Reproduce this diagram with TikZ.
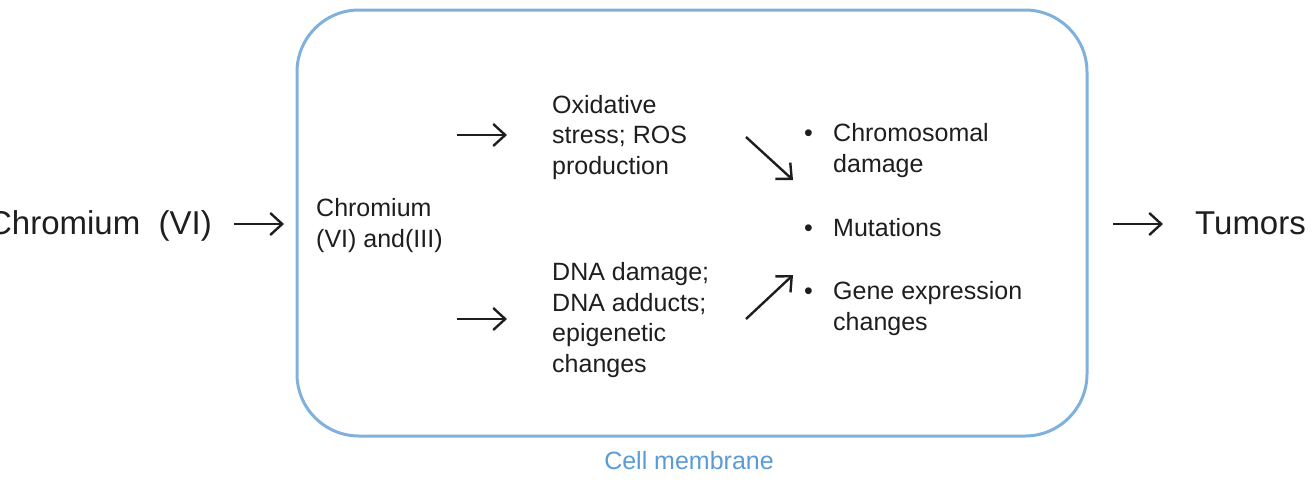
\documentclass[tikz,border=0pt]{standalone}
\usepackage{fontspec}
\setmainfont{Liberation Sans}
\usetikzlibrary{arrows.meta}
\definecolor{membrane}{RGB}{128,176,220}
\definecolor{labelblue}{RGB}{91,155,213}
\definecolor{ink}{RGB}{30,30,30}
\tikzset{
  big/.style={font=\fontsize{33}{38}\selectfont, text=ink, inner sep=0pt},
  small/.style={font=\fontsize{25}{30.5}\selectfont, text=ink, inner sep=0pt, align=left},
  arr/.style={draw=ink, line width=2.4pt, -{Straight Barb[length=12pt,width=22pt,line width=2.4pt]}},
  bul/.style={font=\fontsize{25}{30.5}\selectfont, text=ink, inner sep=0pt},
}
\begin{document}
\begin{tikzpicture}[x=1pt,y=-1pt]
\useasboundingbox (0,0) rectangle (1315,483);
% membrane
\draw[membrane, line width=3pt, rounded corners=62pt] (297,10) rectangle (1087,436);
\node[font=\fontsize{25}{30}\selectfont, text=labelblue, inner sep=0pt] (cm) at (689,461) {Cell membrane};
% texts (anchor base = baseline of the last line)
\node[big, anchor=base east] (cr6) at (212,234) {Chromium~~(VI)};
\node[big, anchor=base west] (tum) at (1195,234) {Tumors};
\node[small, anchor=base west] (cr36) at (316,247) {Chromium\\(VI) and(III)};
\node[small, anchor=base west] (ox) at (552,174) {Oxidative\\stress; ROS\\production};
\node[small, anchor=base west] (dna) at (552,372) {DNA damage;\\DNA adducts;\\epigenetic\\changes};
\node[bul, anchor=base west] (b1) at (804,141) {•};
\node[bul, anchor=base west] (b2) at (804,236) {•};
\node[bul, anchor=base west] (b3) at (804,299) {•};
\node[small, anchor=base west] (chr) at (833,172) {Chromosomal\\damage};
\node[small, anchor=base west] (mut) at (833,236) {Mutations};
\node[small, anchor=base west] (gen) at (833,330) {Gene expression\\changes};
% arrow end points
\coordinate (a1s) at (234,224); \coordinate (a1e) at (284,224);
\coordinate (a2s) at (457,135); \coordinate (a2e) at (507,135);
\coordinate (a3s) at (457,319); \coordinate (a3e) at (507,319);
\coordinate (a4s) at (746,137); \coordinate (a4e) at (793,180);
\coordinate (a5s) at (746,319); \coordinate (a5e) at (793,275);
\coordinate (a6s) at (1113,224); \coordinate (a6e) at (1163,224);
\draw[arr] (a1s) -- (a1e);
\draw[arr] (a2s) -- (a2e);
\draw[arr] (a3s) -- (a3e);
\draw[arr] (a4s) -- (a4e);
\draw[arr] (a5s) -- (a5e);
\draw[arr] (a6s) -- (a6e);
\end{tikzpicture}
\end{document}
